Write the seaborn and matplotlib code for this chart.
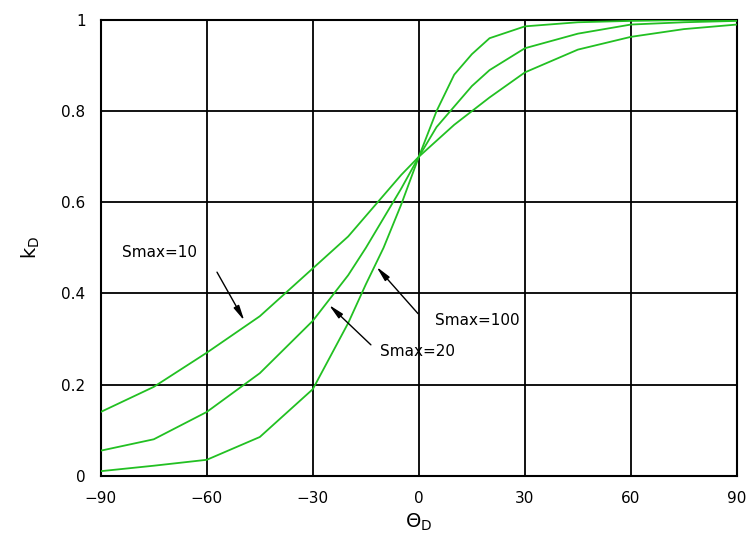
import pandas as pd
import matplotlib
matplotlib.use('Agg')
from matplotlib import pyplot as plt
import seaborn as sns

# angle theta_D (deg) and k_D
theta = [-90, -75, -60, -45, -30, -20, -15, -10, -5, 0, 5, 10, 15, 20, 30, 45, 60, 75, 90]
k_smax10 = [0.14, 0.195, 0.27, 0.35, 0.455, 0.525, 0.57, 0.615, 0.66, 0.70,
            0.735, 0.77, 0.80, 0.83, 0.885, 0.935, 0.963, 0.98, 0.99]
k_smax20 = [0.055, 0.08, 0.14, 0.225, 0.34, 0.44, 0.50, 0.565, 0.63, 0.70,
            0.765, 0.81, 0.855, 0.89, 0.938, 0.97, 0.99, 0.995, 0.998]
k_smax100 = [0.01, 0.022, 0.035, 0.085, 0.19, 0.335, 0.42, 0.50, 0.595, 0.70,
             0.80, 0.88, 0.925, 0.96, 0.986, 0.995, 0.998, 1.0, 1.0]

x_ticks = [-90, -60, -30, 0, 30, 60, 90]
y_ticks = [0, 0.2, 0.4, 0.6, 0.8, 1]
y_tick_labels = ['0', '0.2', '0.4', '0.6', '0.8', '1']

df = pd.concat([
    pd.DataFrame({'theta': theta, 'k': k_smax10, 'curve': 'Smax=10'}),
    pd.DataFrame({'theta': theta, 'k': k_smax20, 'curve': 'Smax=20'}),
    pd.DataFrame({'theta': theta, 'k': k_smax100, 'curve': 'Smax=100'}),
])

sns.set_style('white')
plt.rcParams['font.family'] = ['DejaVu Sans']
plt.rcParams['text.color'] = 'black'
plt.rcParams['axes.labelcolor'] = 'black'

fig = plt.figure(figsize=(7.52, 5.4), dpi=100)
ax = fig.add_axes([0.134, 0.119, 0.846, 0.844])

green = '#22c022'
sns.lineplot(data=df, x='theta', y='k', hue='curve',
             palette=[green, green, green], linewidth=1.3,
             legend=False, ax=ax, zorder=3)

ax.set_xlim(-90, 90)
ax.set_ylim(0, 1)
ax.set_xticks(x_ticks)
ax.set_xticklabels([str(t).replace('-', '\u2212') for t in x_ticks])
ax.set_yticks(y_ticks)
ax.set_yticklabels(y_tick_labels)
ax.grid(True, color='black', linewidth=1.3)
for s in ax.spines.values():
    s.set_color('black')
    s.set_linewidth(1.5)
ax.tick_params(axis='both', direction='out', length=5, width=1.2, colors='black',
               labelsize=11, pad=6)

ax.set_xlabel('$\\Theta_{\\mathregular{D}}$', fontsize=14, labelpad=4)
ax.set_ylabel('$\\mathregular{k_D}$', fontsize=14, labelpad=14)

arrow = dict(arrowstyle='-|>,head_width=0.18,head_length=0.9', color='black', lw=1.0)
ax.text(-84, 0.49, 'Smax=10', fontsize=11, va='center', ha='left', color='black')
ax.annotate('', xy=(-49, 0.335), xytext=(-57.5, 0.452), arrowprops=arrow)
ax.text(-11, 0.272, 'Smax=20', fontsize=11, va='center', ha='left', color='black')
ax.annotate('', xy=(-26, 0.379), xytext=(-13, 0.283), arrowprops=arrow)
ax.text(4.5, 0.34, 'Smax=100', fontsize=11, va='center', ha='left', color='black')
ax.annotate('', xy=(-12.5, 0.463), xytext=(0.3, 0.351), arrowprops=arrow)

fig.savefig('out.png', dpi=100)
